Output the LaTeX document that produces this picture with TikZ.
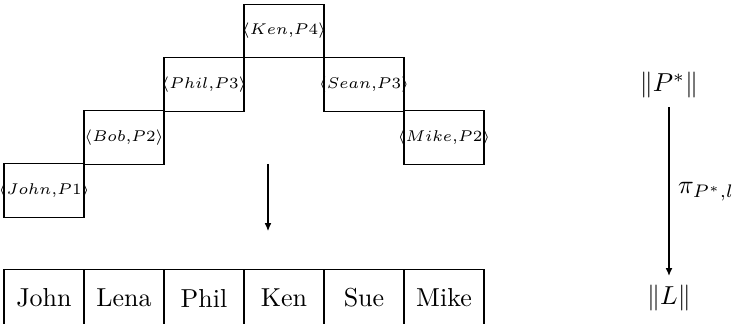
\documentclass[tikz,border=0pt]{standalone}
\usetikzlibrary{arrows.meta}
% a pair label that does not widen its box
\newcommand\pairlbl[2]{\makebox[0pt]{$\langle #1{,}#2\rangle$}}
\begin{document}
\begin{tikzpicture}[x=0.385pt,y=-0.385pt,
  pairbox/.style={draw, minimum width=30.8pt, minimum height=20.5pt,
    inner sep=0pt, font=\fontsize{6}{7}\selectfont},
  cell/.style={draw, minimum width=30.8pt, minimum height=21.6pt,
    inner sep=0pt},
  arr/.style={-{Latex[length=3pt,width=2.6pt]}},
  lbl/.style={inner sep=3.33pt}]
\useasboundingbox (0,0) rectangle (737,324);

% staircase of pairs
\node[pairbox] (john) at (44,190.5) {\pairlbl{John}{P1}};
\node[pairbox] (bob)  at (124,137.5) {\pairlbl{Bob}{P2}};
\node[pairbox] (phil) at (204,84.5) {\pairlbl{Phil}{P3}};
\node[pairbox] (ken)  at (284,31) {\pairlbl{Ken}{P4}};
\node[pairbox] (sean) at (364,84.5) {\pairlbl{Sean}{P3}};
\node[pairbox] (mike) at (444,137.5) {\pairlbl{Mike}{P2}};

% downward arrow
\coordinate (mapfrom) at (268,164);
\coordinate (mapto) at (268,231);
\draw[arr] (mapfrom) -- (mapto);

% list of names
\node[cell] (c1) at (44,298) {John};
\node[cell] (c2) at (124,298) {Lena};
\node[cell] (c3) at (204,298) {Phil};
\node[cell] (c4) at (284,298) {Ken};
\node[cell] (c5) at (364,298) {Sue};
\node[cell] (c6) at (444,298) {Mike};

% projection on the right
\node[lbl] (pstar) at (669,85) {$\|P^*\|$};
\node[lbl] (ell) at (669,298) {$\|L\|$};
\draw[arr] (pstar) -- node[right, lbl, name=pi] {$\pi_{P^*,l}$} (ell);
\end{tikzpicture}
\end{document}
